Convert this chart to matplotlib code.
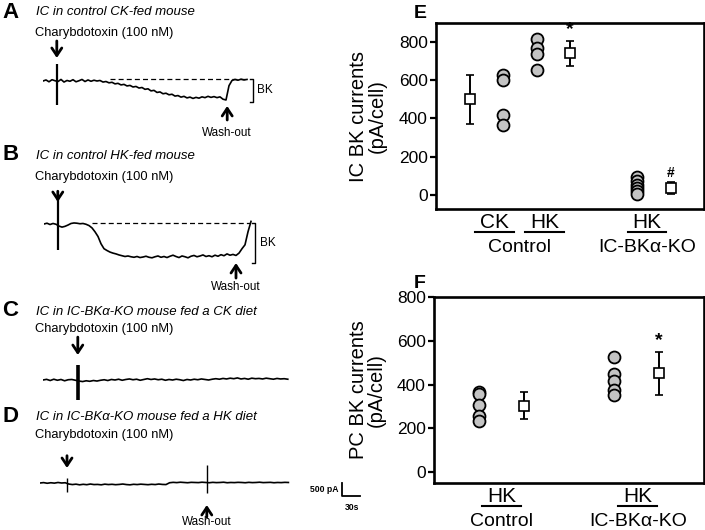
import numpy as np
import matplotlib
matplotlib.use('Agg')
import matplotlib.pyplot as plt
from matplotlib.transforms import blended_transform_factory

plt.rcParams['font.family'] = ['Liberation Sans', 'DejaVu Sans']

# ---------------- data ----------------
# current traces (pA relative to baseline), sampled every DT seconds
DT_AB = 5
trace_a = [0, 40, -30, 50, 10, -20, 60, -40, 20, -10, 50, -30, 10, 60, -20, 40, -10, 30,
           0, 20, -40, -20, -70, -50, -110, -90, -150, -130, -190, -170, -230, -210, -270,
           -250, -320, -300, -380, -360, -440, -420, -490, -470, -530, -510, -580, -560,
           -620, -590, -650, -620, -670, -630, -660, -610, -640, -590, -630, -600, -640,
           -610, -700, -730, -180, 20, 60, 30, 70, 40, 60]
trace_b = [0, 30, -20, 20, -10, -80, -120, -90, -40, 20, 40, 30, 10, 20, -10, -60, -150,
           -300, -480, -760, -950, -1020, -1080, -1120, -1150, -1190, -1220, -1250, -1230,
           -1260, -1280, -1250, -1290, -1270, -1240, -1280, -1300, -1260, -1230, -1280,
           -1250, -1290, -1240, -1200, -1250, -1290, -1230, -1260, -1300, -1240, -1210,
           -1260, -1230, -1190, -1250, -1220, -1260, -1200, -1240, -1180, -1220, -1150,
           -1200, -1170, -1210, -1120, -950, -800, -300, 100]
DT_CD = 6
trace_c = [0, 25, -20, 30, -10, 20, -30, 10, 20, -10, -40, -60, -30, -50, -20, -40,
           -10, 10, -20, 20, 0, 30, -10, 20, 40, 10, 30, -10, 20, 50, 20, 40,
           10, 30, -10, 20, 0, 30, 10, -20, 20, 0, 30, 10, 40, 20, 0, 30,
           50, 30, 60, 40, 70, 50, 80, 40, 60, 30, 70, 50, 60, 40, 70, 50, 30, 60, 40, 50, 30]
trace_d = [0, 15, -10, 10, -5, 20, 0, 10,
           -40, -60, -45, -70, -50, -65, -40, -60, -55, -70, -45, -60, -50, -65, -55, -40,
           -60, -70, -50, -60, -45, -55, -65, -50, -60, -40, -55, -60,
           10, 25, 15, 30, 20, 10, 25, 20, 15, 30, 20, 10, 25, 15, 20, 30, 10, 20, 15, 25,
           20, 10, 25, 15, 20, 30, 15, 20, 25, 10, 20, 15, 25, 20]
# spikes: (time s, top pA, bottom pA)
spikes_a = [(23, 650, -920)]
spikes_b = [(23, 920, -1000)]
spikes_c = [(58, 580, -770)]
spikes_d = [(45, 190, -350), (278, 690, -380)]
toxin_t = {'A': 23, 'B': 23, 'C': 58, 'D': 45}
washout_t = {'A': 307, 'B': 320, 'D': 278}

# panel E (IC BK currents, pA/cell)
e_pos_mean = [1, 4, 7]
e_mean = [500, 742, 35]
e_err = [130, 65, 30]
e_pos_pts = [2, 3, 6]
e_pts = [[625, 600, 420, 365], [815, 770, 735, 655], [95, 70, 50, 35, 20, 5]]
e_marks = ['', '*', '#']
e_group = ['CK', 'HK', 'HK']
e_group_x = [1.75, 3.25, 6.3]
e_sub = ['Control', 'IC-BKα-KO']
e_sub_x = [2.5, 6.3]

# panel F (PC BK currents, pA/cell)
f_pos_mean = [2, 5]
f_mean = [303, 452]
f_err = [62, 98]
f_pos_pts = [1, 4]
f_pts = [[368, 355, 308, 255, 232], [525, 450, 415, 375, 353]]
f_marks = ['', '*']
f_group = ['HK', 'HK']
f_group_x = [1.5, 4.53]
f_sub = ['Control', 'IC-BKα-KO']
f_sub_x = [1.5, 4.53]

# ---------------- figure ----------------
W, H = 705, 530
fig = plt.figure(figsize=(W / 100, H / 100), dpi=100)


def ftext(px, py, s, **kw):
    fig.text(px / W, 1 - py / H, s, **kw)


PX_PER_S = 0.6
PX_PER_PA = 0.026


def trace_axes(x0, base, tmax, pa_rng=2600):
    w = tmax * PX_PER_S
    top = base - pa_rng * PX_PER_PA
    bot = base + pa_rng * PX_PER_PA
    ax = fig.add_axes([x0 / W, 1 - bot / H, w / W, (bot - top) / H])
    ax.set_xlim(0, tmax)
    ax.set_ylim(-pa_rng, pa_rng)
    ax.axis('off')
    ax.patch.set_alpha(0)
    return ax


def draw_trace(ax, vals, dt, spikes, lw=1.2, spike_lw=1.4):
    t = np.arange(len(vals)) * dt
    ax.plot(t, vals, color='black', lw=lw, solid_joinstyle='round')
    for (ts, hi, lo) in spikes:
        ax.vlines(ts, lo, hi, color='black', lw=spike_lw)


def arrow(ax, t, head, tail, lw=2.0):
    ax.annotate('', xy=(t, head), xytext=(t, tail),
                arrowprops=dict(arrowstyle='->,head_length=0.45,head_width=0.3',
                                lw=lw, color='black', shrinkA=0, shrinkB=0,
                                mutation_scale=12),
                annotation_clip=False)


def bracket(ax, t, top, bot, tick=5):
    ax.plot([t - tick, t, t, t - tick], [top, top, bot, bot], color='black', lw=1.0,
            clip_on=False)


title_kw = dict(fontsize=9.5, style='italic', va='center', ha='left')
lab_kw = dict(fontsize=9.3, va='center', ha='left')
letter_kw = dict(fontsize=16, fontweight='bold', va='center', ha='left')
small_kw = dict(fontsize=8.4, va='center', ha='center')

# Panel A
ax_a = trace_axes(43, 81, 360)
draw_trace(ax_a, trace_a, DT_AB, spikes_a, spike_lw=1.6)
ax_a.plot([112, 342], [75, 75], color='black', lw=0.9, ls=(0, (4, 2.5)))
bracket(ax_a, 350, 75, -810)
arrow(ax_a, toxin_t['A'], 885, 1540)
arrow(ax_a, washout_t['A'], -960, -1500)
ftext(2, 12, 'A', **letter_kw)
ftext(36, 12, 'IC in control CK-fed mouse', **title_kw)
ftext(35, 33, 'Charybdotoxin (100 nM)', **lab_kw)
ftext(257, 90, 'BK', fontsize=8.5, va='center', ha='left')
ftext(227, 133, 'Wash-out', **small_kw)

# Panel B
ax_b = trace_axes(44, 224, 360)
draw_trace(ax_b, trace_b, DT_AB, spikes_b, spike_lw=1.6)
ax_b.plot([80, 343], [40, 40], color='black', lw=0.9, ls=(0, (4, 2.5)))
bracket(ax_b, 352, 40, -1500)
arrow(ax_b, toxin_t['B'], 846, 1260)
arrow(ax_b, washout_t['B'], -1500, -2080)
ftext(2, 155, 'B', **letter_kw)
ftext(36, 156, 'IC in control HK-fed mouse', **title_kw)
ftext(35, 177, 'Charybdotoxin (100 nM)', **lab_kw)
ftext(260, 243, 'BK', fontsize=8.5, va='center', ha='left')
ftext(236, 287, 'Wash-out', **small_kw)

# Panel C
ax_c = trace_axes(43, 380, 410)
draw_trace(ax_c, trace_c, DT_CD, spikes_c, spike_lw=2.6)
arrow(ax_c, toxin_t['C'], 960, 1650)
ftext(2, 311, 'C', **letter_kw)
ftext(36, 312, 'IC in IC-BKα-KO mouse fed a CK diet', **title_kw)
ftext(35, 329, 'Charybdotoxin (100 nM)', **lab_kw)

# Panel D
ax_d = trace_axes(40, 483, 545)
draw_trace(ax_d, trace_d, DT_CD, spikes_d, spike_lw=1.0)
arrow(ax_d, toxin_t['D'], 577, 1050)
arrow(ax_d, washout_t['D'], -846, -1308)
ftext(2, 417, 'D', **letter_kw)
ftext(36, 417, 'IC in IC-BKα-KO mouse fed a HK diet', **title_kw)
ftext(35, 435, 'Charybdotoxin (100 nM)', **lab_kw)
ftext(207, 522, 'Wash-out', **small_kw)
# scale bar: 500 pA / 30 s
ax_d.plot([503, 503, 533], [0, -500, -500], color='black', lw=1.3, clip_on=False)
ftext(338, 490, '500 pA', fontsize=6.2, fontweight='bold', va='center', ha='right')
ftext(352, 507, '30s', fontsize=6.2, fontweight='bold', va='center', ha='center')


# ---------------- scatter panels ----------------
def scatter_panel(ax, pos_mean, mean, err, pos_pts, pts, marks, xlim, ylim,
                  groups, group_x, subs, sub_x, ul_w, ylabel):
    for p, vals in zip(pos_pts, pts):
        ax.plot([p] * len(vals), vals, 'o', mfc='#c4c4c4', mec='black', ms=8.6,
                mew=1.3, zorder=3)
    ax.errorbar(pos_mean, mean, yerr=err, fmt='s', mfc='white', mec='black', ms=6.6,
                mew=1.2, ecolor='black', elinewidth=1.4, capsize=3, capthick=1.4, zorder=4)
    for p, m, e, mk in zip(pos_mean, mean, err, marks):
        if mk:
            fs = 14 if mk == '*' else 10
            ax.annotate(mk, (p, m + e), xytext=(0, 2), textcoords='offset points',
                        ha='center', va='bottom', fontsize=fs, fontweight='bold')
    ax.set_xlim(*xlim)
    ax.set_ylim(*ylim)
    ax.set_yticks([0, 200, 400, 600, 800])
    ax.set_xticks([])
    for s in ax.spines.values():
        s.set_linewidth(1.9)
    ax.tick_params(axis='y', direction='out', length=4, width=1.6, labelsize=12.5, pad=2)
    ax.set_ylabel(ylabel, fontsize=14.5, linespacing=0.95)
    tr = blended_transform_factory(ax.transData, ax.transAxes)
    for g, gx in zip(groups, group_x):
        ax.text(gx, -0.072, g, transform=tr, ha='center', va='center', fontsize=15)
        ax.plot([gx - ul_w / 2, gx + ul_w / 2], [-0.126, -0.126], transform=tr,
                color='black', lw=1.5, clip_on=False)
    for s_, sx in zip(subs, sub_x):
        ax.text(sx, -0.205, s_, transform=tr, ha='center', va='center', fontsize=14)


ax_e = fig.add_axes([436 / W, 1 - 209 / H, 268 / W, 186 / H])
scatter_panel(ax_e, e_pos_mean, e_mean, e_err, e_pos_pts, e_pts, e_marks, (0, 8), (-75, 900),
              e_group, e_group_x, e_sub, e_sub_x, 1.16, 'IC BK currents\n(pA/cell)')
ax_e.yaxis.set_label_coords(-0.185, 0.5)

ax_f = fig.add_axes([434 / W, 1 - 483 / H, 270 / W, 186 / H])
scatter_panel(ax_f, f_pos_mean, f_mean, f_err, f_pos_pts, f_pts, f_marks, (0, 6), (-50, 800),
              f_group, f_group_x, f_sub, f_sub_x, 0.87, 'PC BK currents\n(pA/cell)')
ax_f.yaxis.set_label_coords(-0.178, 0.5)

ftext(414, 13, 'E', fontsize=14, fontweight='bold', va='center', ha='left')
ftext(414, 284, 'F', fontsize=14, fontweight='bold', va='center', ha='left')

fig.savefig('out.png', dpi=100)
